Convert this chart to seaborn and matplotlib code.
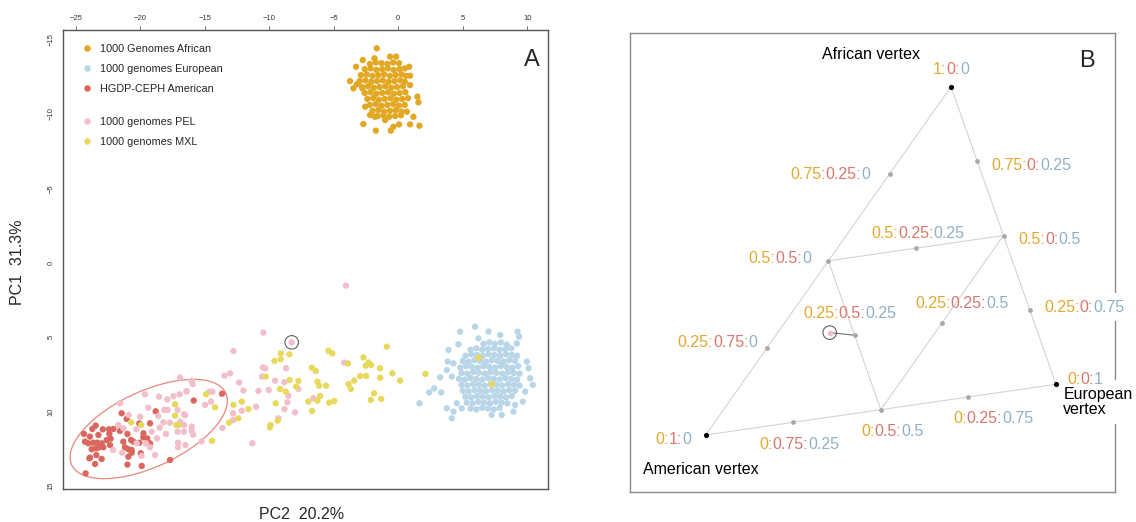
import numpy as np
import pandas as pd
import matplotlib
matplotlib.use("Agg")
import matplotlib.pyplot as plt
import seaborn as sns
from matplotlib.lines import Line2D
from matplotlib.patches import Ellipse, Rectangle
from matplotlib.transforms import ScaledTranslation

sns.set_style("white")
plt.rcParams["font.family"] = ["Liberation Sans", "DejaVu Sans"]

# ------------------------------
# Panel A data: (PC2, PC1) per sample
# ------------------------------
afr_pts = [
    (-1.67, -14.40), (-2.75, -13.61), (-1.85, -13.73), (-0.64, -13.84), (-0.17, -13.84),
    (-3.27, -13.16), (0.84, -13.16), (-3.74, -12.2), (-3.48, -11.71), (-3.22, -11.98),
    (-2.78, -11.71), (0.91, -12.56), (0.91, -11.93), (1.48, -11.15), (1.56, -10.77),
    (-2.71, -9.31), (-1.74, -8.87), (-0.58, -8.87), (0.06, -9.29), (0.91, -9.29),
    (1.64, -9.2), (-1.8, -9.8), (-1.02, -9.58), (-2.57, -10.48), (0.66, -10.14),
    (1.17, -9.8), (-2.19, -9.92), (-0.38, -9.13),
    (-2.2, -13.35), (-1.75, -13.45), (-1.3, -13.4), (-0.85, -13.35), (-0.4, -13.45), (0.05, -13.4),
    (-2.6, -13.0), (-2.15, -13.05), (-1.7, -12.95), (-1.25, -13.0), (-0.8, -13.05), (-0.35, -12.95),
    (0.1, -13.0), (0.5, -13.05),
    (-2.9, -12.6), (-2.45, -12.65), (-2.0, -12.55), (-1.55, -12.6), (-1.1, -12.65), (-0.65, -12.55),
    (-0.2, -12.6), (0.25, -12.65), (0.6, -12.55),
    (-3.0, -12.2), (-2.55, -12.25), (-2.1, -12.15), (-1.65, -12.2), (-1.2, -12.25), (-0.75, -12.15),
    (-0.3, -12.2), (0.15, -12.25), (0.5, -12.15),
    (-2.8, -11.8), (-2.35, -11.85), (-1.9, -11.75), (-1.45, -11.8), (-1.0, -11.85), (-0.55, -11.75),
    (-0.1, -11.8), (0.35, -11.85),
    (-2.6, -11.4), (-2.15, -11.45), (-1.7, -11.35), (-1.25, -11.4), (-0.8, -11.45), (-0.35, -11.35),
    (0.1, -11.4), (0.55, -11.45),
    (-2.4, -11.0), (-1.95, -11.05), (-1.5, -10.95), (-1.05, -11.0), (-0.6, -11.05), (-0.15, -10.95),
    (0.3, -11.0), (0.75, -11.05),
    (-2.2, -10.6), (-1.75, -10.65), (-1.3, -10.55), (-0.85, -10.6), (-0.4, -10.65), (0.05, -10.55),
    (0.5, -10.6),
    (-2.0, -10.2), (-1.55, -10.25), (-1.1, -10.15), (-0.65, -10.2), (-0.2, -10.25), (0.25, -10.15),
    (-1.6, -9.85), (-1.15, -9.9), (-0.7, -9.8), (-0.25, -9.85), (0.2, -9.9),
]

eur_pts = [
    (1.64, 9.44), (2.39, 8.71), (2.78, 8.44), (3.32, 8.71), (3.24, 7.70), (3.76, 7.21),
    (3.89, 5.86), (4.79, 4.63), (5.95, 4.30), (6.99, 4.63), (6.21, 5.08), (7.89, 4.86),
    (9.24, 4.63), (9.36, 4.97), (9.18, 5.42), (4.66, 5.48), (4.27, 6.76), (4.14, 7.65),
    (3.83, 6.64), (9.96, 6.64), (10.09, 7.09), (10.22, 7.76), (10.43, 8.21), (9.83, 8.66),
    (9.65, 9.33), (9.05, 9.55), (8.93, 10.0), (8.01, 10.23), (7.24, 10.23), (4.14, 10.45),
    (3.76, 9.78), (4.27, 10.0), (4.92, 9.78), (4.53, 9.44),
    (6.6, 5.45), (7.05, 5.35), (7.5, 5.45), (7.95, 5.35), (8.4, 5.5),
    (5.6, 5.85), (6.05, 5.75), (6.5, 5.85), (6.95, 5.8), (7.4, 5.75), (7.85, 5.85), (8.3, 5.8), (8.75, 5.75),
    (5.2, 6.25), (5.65, 6.15), (6.1, 6.2), (6.55, 6.25), (7.0, 6.15), (7.45, 6.2), (7.9, 6.25),
    (8.35, 6.15), (8.8, 6.2), (9.2, 6.25),
    (5.0, 6.6), (5.45, 6.65), (5.9, 6.55), (6.35, 6.6), (6.8, 6.65), (7.25, 6.55), (7.7, 6.6),
    (8.15, 6.65), (8.6, 6.55), (9.05, 6.6),
    (4.8, 7.05), (5.25, 6.95), (5.7, 7.0), (6.15, 7.05), (6.6, 6.95), (7.05, 7.0), (7.5, 7.05),
    (7.95, 6.95), (8.4, 7.0), (8.85, 7.05), (9.3, 6.95),
    (4.9, 7.4), (5.35, 7.45), (5.8, 7.35), (6.25, 7.4), (6.7, 7.45), (7.15, 7.35), (7.6, 7.4),
    (8.05, 7.45), (8.5, 7.35), (8.95, 7.4), (9.4, 7.45),
    (4.7, 7.8), (5.15, 7.85), (5.6, 7.75), (6.05, 7.8), (6.5, 7.85), (6.95, 7.75), (7.4, 7.8),
    (7.85, 7.85), (8.3, 7.75), (8.75, 7.8), (9.2, 7.85),
    (4.9, 8.2), (5.35, 8.25), (5.8, 8.15), (6.25, 8.2), (6.7, 8.25), (7.15, 8.15), (7.6, 8.2),
    (8.05, 8.25), (8.5, 8.15), (8.95, 8.2), (9.4, 8.25),
    (5.0, 8.6), (5.45, 8.65), (5.9, 8.55), (6.35, 8.6), (6.8, 8.65), (7.25, 8.55), (7.7, 8.6),
    (8.15, 8.65), (8.6, 8.55), (9.05, 8.6),
    (5.2, 9.0), (5.65, 9.05), (6.1, 8.95), (6.55, 9.0), (7.0, 9.05), (7.45, 8.95), (7.9, 9.0),
    (8.35, 9.05), (8.8, 8.95),
    (5.3, 9.4), (5.75, 9.45), (6.2, 9.35), (6.65, 9.4), (7.1, 9.45), (7.55, 9.35), (8.0, 9.4), (8.45, 9.45),
    (5.6, 9.8), (6.05, 9.85), (6.5, 9.75), (6.95, 9.8), (7.4, 9.85), (7.85, 9.75),
]

amr_pts = [
    (-21.44, 10.11), (-23.45, 10.94), (-23.71, 11.17), (-22.9, 11.19), (-22.42, 11.19),
    (-22.08, 11.17), (-21.57, 11.3), (-19.24, 10.79), (-24.36, 11.5), (-23.9, 11.68),
    (-23.24, 11.57), (-22.39, 11.5), (-22.29, 11.82), (-20.99, 11.5), (-20.71, 11.91),
    (-19.76, 11.73), (-19.45, 11.8), (-24.28, 12.02), (-24.02, 12.13), (-23.64, 12.09),
    (-23.33, 12.09), (-22.99, 12.13), (-22.6, 11.91), (-22.34, 12.25), (-21.31, 12.02),
    (-21.18, 12.4), (-20.53, 12.02), (-20.07, 12.09), (-19.24, 12.13), (-23.76, 12.53),
    (-23.42, 12.47), (-22.86, 12.4), (-20.92, 12.53), (-20.66, 12.58), (-19.96, 12.8),
    (-23.89, 13.09), (-22.99, 13.18), (-20.92, 13.03), (-23.5, 13.52), (-20.99, 13.56),
    (-19.88, 13.65), (-17.69, 13.25), (-24.23, 14.15), (-15.85, 9.26), (-13.66, 8.8),
    (-18.8, 9.98), (-21.05, 10.49), (-20.07, 10.8), (-23.2, 12.4), (-23.4, 12.92),
    (-23.94, 13.14), (-19.75, 11.46), (-20.66, 12.76),
]

pel_pts = [
    (-19.63, 8.84), (-18.54, 9.0), (-17.9, 9.18), (-17.43, 8.96), (-16.95, 8.84), (-16.4, 8.61),
    (-21.57, 9.44), (-19.37, 9.74), (-18.13, 9.89), (-17.87, 9.89), (-17.1, 9.89), (-16.6, 10.18),
    (-18.6, 10.3), (-18.2, 10.72), (-17.7, 10.75), (-16.9, 10.68), (-20.0, 10.34), (-20.9, 10.23),
    (-21.7, 10.9), (-21.3, 11.13), (-19.1, 11.35), (-18.5, 11.08), (-18.0, 11.5), (-17.1, 11.35),
    (-16.6, 11.35), (-20.3, 11.19), (-20.27, 12.13), (-19.55, 12.13), (-18.7, 11.8), (-19.24, 12.4),
    (-18.85, 12.92), (-17.07, 12.09), (-17.07, 12.4), (-16.5, 12.25), (-21.4, 12.76), (-22.1, 12.58),
    (-19.9, 12.98), (-16.91, 7.72), (-16.0, 7.93), (-15.93, 8.15),
    (-10.46, 4.7), (-12.78, 5.93), (-10.5, 7.03), (-10.3, 7.1), (-8.7, 7.09), (-10.55, 7.65),
    (-13.47, 7.59), (-13.04, 7.43), (-9.55, 7.92), (-8.84, 8.03), (-12.34, 8.05), (-10.84, 8.61),
    (-10.04, 8.55), (-12.0, 8.59), (-7.74, 8.48), (-8.52, 8.93), (-8.6, 9.38), (-8.82, 9.83),
    (-8.0, 10.05), (-9.29, 10.45), (-11.02, 9.67), (-12.13, 9.94), (-14.64, 8.66), (-14.4, 8.66),
    (-14.97, 9.55), (-14.51, 9.33), (-16.4, 8.66), (-16.01, 7.95), (-13.63, 11.1), (-16.52, 10.23),
    (-16.01, 11.01), (-16.01, 11.28), (-15.9, 11.55), (-16.6, 10.9), (-12.8, 10.12), (-12.8, 10.57),
    (-11.31, 12.13), (-15.24, 11.99), (-4.2, 6.71), (-6.58, 9.11), (-4.05, 1.54),
]
# the sample circled in panel A (also shown in panel B)
highlight_pt = (-8.26, 5.35)

mxl_pts = [
    (-9.11, 6.09), (-8.43, 6.15), (-9.6, 6.6), (-9.11, 6.49), (-10.27, 7.65), (-9.16, 8.48),
    (-8.72, 8.66), (-8.43, 7.88), (-7.92, 8.33), (-7.74, 7.94), (-12.13, 9.33), (-11.61, 9.83),
    (-12.78, 9.55), (-14.2, 9.71), (-14.9, 8.84), (-13.12, 10.74), (-12.4, 10.45), (-9.5, 9.44),
    (-9.34, 10.61), (-9.9, 10.9), (-9.95, 11.06),
    (-5.42, 5.91), (-5.11, 6.09), (-0.89, 5.64), (-2.7, 6.36), (-3.91, 6.76), (-2.32, 6.71),
    (-2.11, 6.87), (-2.52, 6.92), (-1.41, 7.09), (-6.71, 7.05), (-6.4, 7.27), (-2.96, 7.61),
    (-2.49, 7.61), (-1.41, 7.72), (-0.46, 7.43), (0.14, 7.92), (-3.42, 7.92), (-3.86, 8.15),
    (-3.68, 8.48), (-6.27, 7.99), (-6.14, 8.26), (-5.6, 8.26), (-1.88, 8.77), (-6.06, 8.95),
    (-2.14, 9.22), (-1.33, 9.15), (-6.97, 9.33), (-6.27, 9.27), (-5.36, 9.4), (-4.97, 9.29),
    (-6.68, 9.96), (2.1, 7.47),
    (-20.71, 10.72), (-19.93, 10.9), (-17.3, 9.51), (-17.3, 10.27), (-17.2, 10.9), (-17.0, 10.9),
    (-14.43, 11.97), (6.24, 6.38), (7.25, 8.15),
]

group_names = ["1000 Genomes African", "1000 genomes European", "HGDP-CEPH American",
               "1000 genomes PEL", "1000 genomes MXL"]
group_colors = ["#E3A823", "#B8D6E8", "#D9675E", "#F2BECA", "#E8D95C"]
x_ticks = [-25, -20, -15, -10, -5, 0, 5, 10]
y_ticks = [-15, -10, -5, 0, 5, 10, 15]

# ------------------------------
# Panel B data: ancestry proportions (African : American : European)
# ------------------------------
vertex_names = ["African vertex", "American vertex", "European\nvertex"]
tern_pts = [(1, 0, 0), (0.75, 0.25, 0), (0.75, 0, 0.25), (0.5, 0.5, 0), (0.5, 0.25, 0.25),
            (0.5, 0, 0.5), (0.25, 0.75, 0), (0.25, 0.5, 0.25), (0.25, 0.25, 0.5), (0.25, 0, 0.75),
            (0, 1, 0), (0, 0.75, 0.25), (0, 0.5, 0.5), (0, 0.25, 0.75), (0, 0, 1)]
tern_edges = [((1, 0, 0), (0, 1, 0)), ((1, 0, 0), (0, 0, 1)), ((0, 1, 0), (0, 0, 1)),
              ((0.5, 0.5, 0), (0.5, 0, 0.5)), ((0.5, 0.5, 0), (0, 0.5, 0.5)),
              ((0, 0.5, 0.5), (0.5, 0, 0.5))]
sample_tern = (0.27, 0.565, 0.165)
part_colors = ["#E2A830", "#D9776F", "#8FB0C7"]

# ------------------------------
# Layout
# ------------------------------
W, H = 1136, 522
fig = plt.figure(figsize=(W / 100, H / 100), dpi=100)
axA = fig.add_axes([63.3 / W, 1 - 489.3 / H, 484.7 / W, 459.3 / H])
axB = fig.add_axes([630 / W, 1 - 491.7 / H, 485 / W, 458.4 / H])

# ------------------------------
# Panel A
# ------------------------------
frames = []
for name, pts in zip(group_names, [afr_pts, eur_pts, amr_pts, pel_pts + [highlight_pt], mxl_pts]):
    arr = np.array(pts)
    frames.append(pd.DataFrame({"PC2": arr[:, 0], "PC1": arr[:, 1], "group": name}))
df = pd.concat(frames, ignore_index=True)

sns.scatterplot(data=df, x="PC2", y="PC1", hue="group", hue_order=group_names,
                palette=group_colors, s=21, linewidth=0, legend=False, ax=axA, zorder=3)
axA.scatter([highlight_pt[0]], [highlight_pt[1]], s=95, facecolor="none",
            edgecolor="#606060", linewidth=0.8, zorder=4)

axA.set_xlim(-25.96, 11.6)
axA.set_ylim(15.22, -15.63)
axA.set_xticks(x_ticks)
axA.set_yticks(y_ticks)
axA.xaxis.tick_top()
axA.tick_params(axis="both", length=3, width=0.6, color="#555555", labelsize=5.5,
                labelcolor="#333333", pad=3)
for lab in axA.get_yticklabels():
    lab.set_rotation(90)
    lab.set_va("center")
axA.set_xlabel("")
axA.set_ylabel("")
for sp in axA.spines.values():
    sp.set_color("#555555")
    sp.set_linewidth(1.0)

# ellipse around the American-like cluster (size given in pixels)
ell = Ellipse((0, 0), 1.70, 0.756, angle=25, fill=False, edgecolor="#E8867C", linewidth=0.9,
              transform=fig.dpi_scale_trans + ScaledTranslation(-19.34, 11.17, axA.transData),
              zorder=2)
axA.add_patch(ell)

def make_handles(colors):
    return [Line2D([0], [0], marker="o", linestyle="", markersize=4.7,
                   markerfacecolor=c, markeredgewidth=0) for c in colors]

leg_kw = dict(loc="upper left", frameon=False, fontsize=7.8, handlelength=0.8,
              handletextpad=0.75, labelspacing=0.92, borderpad=0, borderaxespad=0)
leg1 = axA.legend(make_handles(group_colors[:3]), group_names[:3],
                  bbox_to_anchor=(0.0406, 0.969), **leg_kw)
axA.add_artist(leg1)
axA.legend(make_handles(group_colors[3:]), group_names[3:],
           bbox_to_anchor=(0.0406, 0.8105), **leg_kw)

axA.text(0.9665, 0.935, "A", transform=axA.transAxes, fontsize=17, ha="center", va="center")
fig.text(301.7 / W, 1 - 514.5 / H, "PC2  20.2%", fontsize=11.5, ha="center", va="center")
fig.text(18 / W, 1 - 262 / H, "PC1  31.3%", fontsize=11.5, ha="center", va="center", rotation=90)

# ------------------------------
# Panel B (ternary diagram, frame in panel pixels)
# ------------------------------
axB.set_xlim(630, 1115)
axB.set_ylim(491.7, 33.3)
axB.set_xticks([])
axB.set_yticks([])
for sp in axB.spines.values():
    sp.set_color("#8a8a8a")
    sp.set_linewidth(1.0)

TRI = np.array([[951.0, 86.7], [705.7, 435.0], [1056.0, 384.3]])

def tern_xy(p):
    return np.asarray(p, dtype=float) @ TRI

for p, q in tern_edges:
    a, b = tern_xy(p), tern_xy(q)
    axB.plot([a[0], b[0]], [a[1], b[1]], color="#d4d4d4", linewidth=0.8, zorder=1)

txy = np.array([tern_xy(p) for p in tern_pts])
is_vertex = np.array([max(p) == 1 for p in tern_pts])
sns.scatterplot(x=txy[~is_vertex, 0], y=txy[~is_vertex, 1], color="#a9a9a9", s=12,
                linewidth=0, ax=axB, zorder=3)
sns.scatterplot(x=txy[is_vertex, 0], y=txy[is_vertex, 1], color="black", s=14,
                linewidth=0, ax=axB, zorder=3)

# sample circled in A, linked to its nearest grid point
s_xy = tern_xy(sample_tern)
g_xy = tern_xy((0.25, 0.5, 0.25))
axB.plot([s_xy[0], g_xy[0]], [s_xy[1], g_xy[1]], color="#707070", linewidth=0.8, zorder=2)
axB.scatter([s_xy[0]], [s_xy[1]], s=18, color=group_colors[3], linewidth=0, zorder=4)
axB.scatter([s_xy[0]], [s_xy[1]], s=95, facecolor="none", edgecolor="#606060",
            linewidth=0.8, zorder=4)

# label offsets (dx, dy in px, alignment), same order as tern_pts
label_pos = [(0, -17.7, "center"), (-19.7, 1.2, "right"), (13.8, 3.9, "left"),
             (-17.4, -2.5, "right"), (2.3, -15, "center"), (14.8, 4.5, "left"),
             (-9.3, -5.2, "right"), (-5, -22, "center"), (19.5, -18.6, "center"),
             (14.6, -2.6, "left"), (-14.7, 4.3, "right"), (6, 21.7, "center"),
             (11.8, 21.4, "center"), (25, 22, "center"), (11.3, -4.3, "left")]
LFS = 11.5
HA_FRAC = {"left": 0.0, "center": 0.5, "right": 1.0}

renderer = fig.canvas.get_renderer()
_probe = axB.text(0, 0, "0", fontsize=LFS)
_prop = _probe.get_fontproperties()
_probe.remove()

def text_w(s):
    # rendered width in pixels (= panel B data units)
    return renderer.get_text_width_height_descent(s, _prop, ismath=False)[0]

def ratio_label(x, y, vals, ha, white=False):
    parts = ["%g" % v for v in vals]
    pieces = [parts[0] + ":", parts[1] + ":", parts[2]]
    full = "".join(pieces)
    total = text_w(full)
    x0 = x - HA_FRAC[ha] * total
    if white:
        axB.add_patch(Rectangle((x0 - 6, y - 14), total + 12, 28, facecolor="white",
                                edgecolor="none", zorder=2.6, clip_on=False))
    prefix = ""
    for s, c in zip(pieces, part_colors):
        shift = text_w(prefix + "0") - text_w("0") if prefix else 0.0
        axB.text(x0 + shift, y, s, ha="left", va="center", fontsize=LFS, color=c, zorder=2.8)
        prefix += s

for p, xy, (dx, dy, ha) in zip(tern_pts, txy, label_pos):
    ratio_label(xy[0] + dx, xy[1] + dy, p, ha, white=(p == (0.25, 0, 0.75)))

vname_pos = [(-80, -32.4, "center"), (-63, 34.3, "left"), (7.3, 17.7, "left")]
for name, v, (dx, dy, ha) in zip(vertex_names, TRI, vname_pos):
    axB.text(v[0] + dx, v[1] + dy, name, ha=ha, va="center", fontsize=LFS, color="black",
             linespacing=1.05, zorder=2.6,
             bbox=dict(boxstyle="square,pad=0.4", fc="white", ec="none") if "\n" in name else None)

axB.text(0.942, 0.939, "B", transform=axB.transAxes, fontsize=17, ha="center", va="center")

fig.savefig("out.png", dpi=100)
